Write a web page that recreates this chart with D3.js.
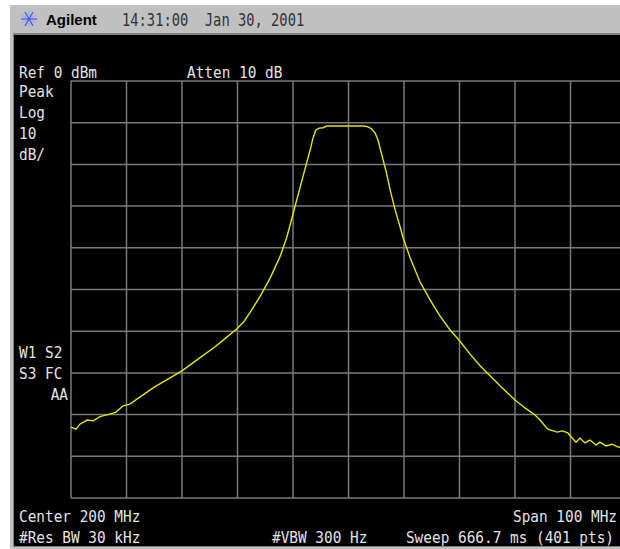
<!DOCTYPE html>
<html>
<head>
<meta charset="utf-8">
<script src="https://cdn.jsdelivr.net/npm/d3@7"></script>
<style>
  body { margin: 0; background: #fff; }
  svg { display: block; }
</style>
</head>
<body>
<div id="chart"></div>
<script>
// Trace (MHz, dBm)
const freqMHz = [150, 150.9, 151.6, 152.9, 154.0, 155.2, 157.0, 158.1, 159.4, 160.6,
  162.4, 164.8, 166.9, 170.0, 173.2, 175.9, 177.9, 179.9, 181.2, 182.3, 184.1, 185.9,
  187.7, 188.9, 190.0, 191.3, 192.2, 193.1, 193.6, 194.1, 194.7, 195.4,
  196.1, 200.0, 202.8, 203.5, 204.1, 204.8, 205.3, 206.0, 206.8, 207.5,
  208.4, 209.3, 209.8, 211.1, 212.9, 214.7, 216.5, 218.3, 219.9, 221.9,
  223.7, 225.5, 227.3, 230.0, 231.8, 233.6, 234.5, 235.9, 237.6, 238.5,
  239.5, 240.3, 241.0, 241.7, 242.6, 243.5, 244.6, 245.3, 246.4, 247.5,
  248.6, 250];
const levelDbm = [-83.0, -83.5, -82.3, -81.3, -81.5, -80.5, -79.9, -79.4, -77.9, -77.5,
  -75.8, -73.6, -71.9, -69.5, -66.4, -63.8, -61.6, -59.4, -57.6, -55.4, -51.6, -47.2,
  -42.0, -37.4, -31.9, -25.4, -20.9, -16.5, -13.7, -11.8, -11.3, -11.2,
  -10.8, -10.8, -10.8, -11.0, -11.4, -12.5, -14.1, -17.7, -21.8, -26.1,
  -30.9, -35.0, -37.4, -42.4, -48.2, -52.5, -56.4, -59.7, -62.1, -65.5,
  -68.3, -70.7, -73.1, -76.5, -78.4, -80.1, -81.3, -83.5, -84.2, -83.9,
  -84.4, -85.6, -86.6, -85.6, -86.8, -86.1, -87.3, -86.6, -87.5, -87.1,
  -87.8, -88.0];

const freqDomain = [150, 250];   // center 200 MHz, span 100 MHz
const levelDomain = [0, -100];   // ref 0 dBm, 10 dB/div

const leftLabels = ["Peak", "Log", "10", "dB/"];
const markerLabels = ["W1 S2", "S3 FC", "AA"];

const width = 620, height = 549;

const svg = d3.select("#chart")
    .append("svg")
    .attr("width", width)
    .attr("height", height);

// Instrument frame
svg.append("rect")
    .attr("x", 10).attr("y", 5)
    .attr("width", 610).attr("height", 544)
    .style("fill", "#c0c0c0");
svg.append("rect")
    .attr("x", 13).attr("y", 33)
    .attr("width", 607).attr("height", 514)
    .style("fill", "#808080");
svg.append("rect")
    .attr("x", 14).attr("y", 35)
    .attr("width", 606).attr("height", 511)
    .style("fill", "#000");

// Header: logo + title + time
const logo = svg.append("g").attr("transform", "translate(29,19)");
d3.range(12).forEach(function (i) {
    const a = i * Math.PI / 6;
    logo.append("line")
        .attr("x1", Math.cos(a) * 2).attr("y1", Math.sin(a) * 2)
        .attr("x2", Math.cos(a) * 8).attr("y2", Math.sin(a) * 8)
        .attr("stroke", i % 2 ? "#9aa8ff" : "#4a5cf0")
        .attr("stroke-width", 1.3);
});
logo.append("circle").attr("r", 2).style("fill", "#4a5cf0");

svg.append("text")
    .attr("x", 46).attr("y", 25)
    .text("Agilent")
    .style("font-family", "Liberation Sans, Arial, sans-serif")
    .style("font-weight", "bold")
    .style("font-size", "15px")
    .style("fill", "#000");

svg.append("text")
    .attr("transform", "translate(122,26) scale(0.81,1)")
    .text("14:31:00  Jan 30, 2001")
    .style("font-family", "DejaVu Sans Mono, monospace")
    .style("font-size", "17px")
    .style("fill", "#333")
    .style("white-space", "pre");

// Scales
const x = d3.scaleLinear().domain(freqDomain).range([71, 626]);
const y = d3.scaleLinear().domain(levelDomain).range([81, 498]);

const screen = svg.append("g");
screen.append("clipPath").attr("id", "clip")
    .append("rect").attr("x", 14).attr("y", 35).attr("width", 606).attr("height", 511);

// Graticule
const grid = screen.append("g").attr("clip-path", "url(#clip)");
grid.selectAll("line.v")
    .data(x.ticks(10))
    .join("line")
    .attr("class", "v")
    .attr("x1", d => x(d)).attr("x2", d => x(d))
    .attr("y1", y(levelDomain[0])).attr("y2", y(levelDomain[1]))
    .attr("stroke", "#7a7a7a")
    .attr("stroke-width", 1.5);
grid.selectAll("line.h")
    .data(y.ticks(10))
    .join("line")
    .attr("class", "h")
    .attr("y1", d => y(d)).attr("y2", d => y(d))
    .attr("x1", x(freqDomain[0])).attr("x2", x(freqDomain[1]))
    .attr("stroke", "#7a7a7a")
    .attr("stroke-width", 1.5);

// Trace
const line = d3.line()
    .x((d, i) => x(freqMHz[i]))
    .y(d => y(d));
grid.append("path")
    .datum(levelDbm)
    .attr("d", line)
    .attr("fill", "none")
    .attr("stroke", "#e6e600")
    .attr("stroke-width", 1.4);

// Screen annotations (narrow, tall instrument font)
function label(txt, px, py, anchor) {
    screen.append("text")
        .attr("transform", "translate(" + px + "," + py + ") scale(0.9,1)")
        .attr("text-anchor", anchor || "start")
        .text(txt)
        .style("font-family", "DejaVu Sans Mono, monospace")
        .style("font-size", "16px")
        .style("fill", "#e4e4e4")
        .style("white-space", "pre");
}

label("Ref 0 dBm", 19, 78);
label("Atten 10 dB", 187, 78);
leftLabels.forEach((t, i) => label(t, 19, 97 + i * 21));
label(markerLabels[0], 19, 358);
label(markerLabels[1], 19, 379);
label(markerLabels[2], 68, 400, "end");

label("Center 200 MHz", 19, 522);
label("Span 100 MHz", 617, 522, "end");
label("#Res BW 30 kHz", 19, 543);
label("#VBW 300 Hz", 272, 543);
label("Sweep 666.7 ms (401 pts)", 614, 543, "end");
</script>
</body>
</html>
